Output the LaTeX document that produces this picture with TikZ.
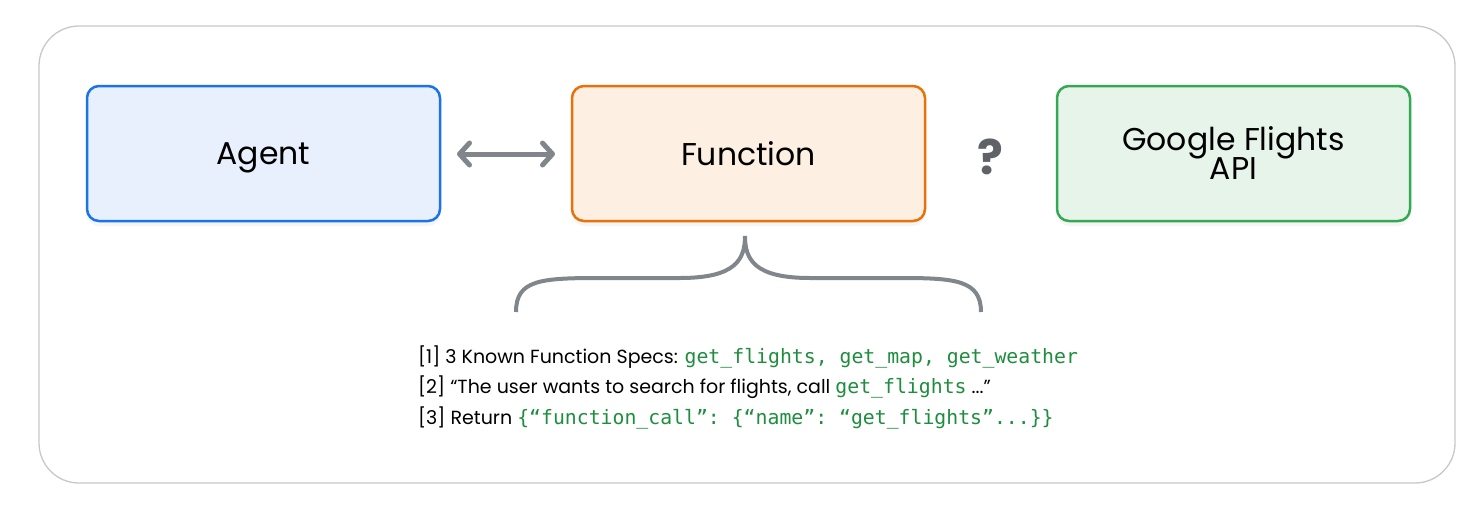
\documentclass[tikz,border=0pt]{standalone}
\usepackage{fontspec}
\setmainfont{Poppins}
\setmonofont{DejaVu Sans Mono}
\usetikzlibrary{arrows.meta,shadows}
\definecolor{bluestroke}{HTML}{1A73E8}
\definecolor{bluefill}{HTML}{E8F0FE}
\definecolor{orangestroke}{HTML}{E8710A}
\definecolor{orangefill}{HTML}{FEEFE3}
\definecolor{greenstroke}{HTML}{34A853}
\definecolor{greenfill}{HTML}{E6F4EA}
\definecolor{greytone}{HTML}{80868B}
\definecolor{darkgrey}{HTML}{5F6368}
\definecolor{codegreen}{HTML}{1E8E3E}
\definecolor{framegrey}{HTML}{C8C8C8}
\tikzset{
  card/.style={rounded corners=12pt, line width=2.5pt, minimum width=353pt, minimum height=135pt,
    align=center, inner sep=0pt, font=\fontsize{31.5}{34}\selectfont,
    drop shadow={opacity=0.08, shadow xshift=0pt, shadow yshift=-5pt}},
  descline/.style={anchor=base west, inner sep=0pt, font=\fontsize{19}{22}\selectfont},
}
\newcommand{\cd}[1]{{\color{codegreen}\ttfamily\fontsize{19.8}{22}\selectfont #1}}
\begin{document}
\begin{tikzpicture}[x=1pt,y=-1pt]
\useasboundingbox (0,0) rectangle (1484,504);
\node[draw=framegrey, line width=1.3pt, rounded corners=40pt, fill=white, minimum width=1416pt, minimum height=457pt, inner sep=0pt] (frame) at (747,254.5) {};
\node[card, draw=bluestroke, fill=bluefill, text depth=0pt] (agent) at (263.5,153.5) {Agent};
\node[card, draw=orangestroke, fill=orangefill, text depth=0pt] (func) at (748.5,153.5) {Function};
\node[card, draw=greenstroke, fill=greenfill] (gapi) at (1233.5,153.5) {Google Flights\\[-5pt]API};
\coordinate (al) at (457,154);
\coordinate (ar) at (555,154);
\draw[greytone, line width=5pt, line cap=round, {Straight Barb[length=10pt,width=22pt,line cap=round,line join=round]}-{Straight Barb[length=10pt,width=22pt,line cap=round,line join=round]}] (al) -- (ar);
\node[text=darkgrey, font=\bfseries\fontsize{48}{52}\selectfont] (q) at (990,157) {?};
\coordinate (btop) at (745,236);
\coordinate (bl) at (516,312);
\coordinate (br) at (981,312);
\draw[greytone, line width=4pt] (bl) .. controls (516,280) and (540,278) .. (600,278)
  -- (680,278) .. controls (735,278) and (745,260) .. (btop)
  .. controls (745,260) and (755,278) .. (810,278)
  -- (900,278) .. controls (955,278) and (981,280) .. (br);
\node[descline] (l1) at (418,363) {[1] 3 Known Function Specs: \cd{get\_flights, get\_map, get\_weather}};
\node[descline] (l2) at (418,393) {[2] “The user wants to search for flights, call \cd{get\_flights} ...”};
\node[descline] (l3) at (418,424) {[3] Return \cd{\{“function\_call”: \{“name”: “get\_flights”...\}\}}};
\end{tikzpicture}
\end{document}
